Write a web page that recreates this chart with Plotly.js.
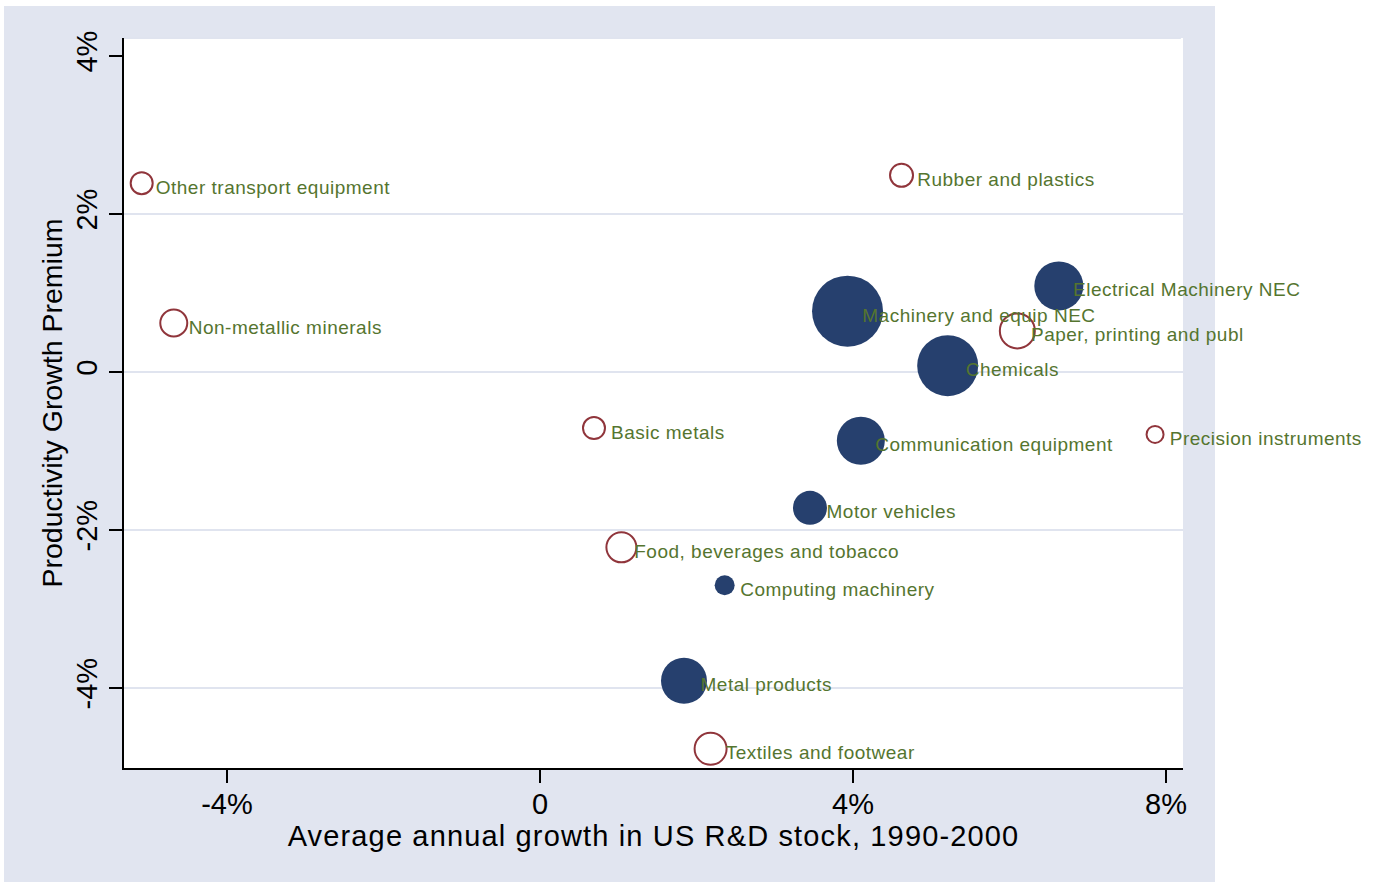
<!DOCTYPE html>
<html><head><meta charset="utf-8">
<script src="https://cdn.plot.ly/plotly-3.0.1.min.js"></script>
<style>
html,body{margin:0;padding:0;background:#fff;width:1379px;height:882px;overflow:hidden;}
#bg{position:absolute;left:4px;top:6px;width:1211px;height:876px;background:#e1e5f0;}
#chart{position:absolute;left:0;top:0;width:1362px;height:882px;}
#chart .annotation-text{letter-spacing:0.5px;}
#chart .xtitle{letter-spacing:1.15px;}
</style></head><body><div id="bg"></div><div id="chart"></div>
<script>
// Industries (x = avg annual growth in US R&D stock, %, y = productivity growth premium, %)
const industries = [
  'Other transport equipment','Non-metallic minerals','Rubber and plastics',
  'Electrical Machinery NEC','Machinery and equip NEC','Paper, printing and publ',
  'Chemicals','Basic metals','Precision instruments','Communication equipment',
  'Motor vehicles','Food, beverages and tobacco','Computing machinery',
  'Metal products','Textiles and footwear'
];
const rdGrowth = [-5.09,-4.68,4.62,6.63,3.93,6.10,5.21,0.69,7.86,4.10,3.45,1.04,2.36,1.84,2.18];
const premium  = [2.39,0.62,2.49,1.09,0.77,0.52,0.08,-0.71,-0.79,-0.87,-1.72,-2.22,-2.70,-3.91,-4.77];
const bubbleSize = [22,27,23,49,71,35,61,22,17,48,34,30,20,46,32];
const highTech = [false,false,false,true,true,false,true,false,false,true,true,false,true,true,false];

const xTickVals = [-4,0,4,8];
const xTickText = ['-4%','0','4%','8%'];
const yTickVals = [-4,-2,0,2,4];
const yTickText = ['-4%','-2%','0','2%','4%'];
const yGridVals = [-4,-2,0,2];

const FONT = '"Liberation Sans", Arial, sans-serif';
const NAVY = '#26406e', MAROON = '#90353b', GREEN = '#55752f', GRID = '#e0e4ef';

function pick(arr, flag){ return arr.filter((_, i) => highTech[i] === flag); }

const traces = [
  {
    type:'scatter', mode:'markers', hoverinfo:'skip',
    x: pick(rdGrowth,false), y: pick(premium,false),
    marker:{size: pick(bubbleSize,false), opacity:1, color:'rgba(0,0,0,0)', line:{color:MAROON, width:2}},
    cliponaxis:false
  },
  {
    type:'scatter', mode:'markers', hoverinfo:'skip',
    x: pick(rdGrowth,true), y: pick(premium,true),
    marker:{size: pick(bubbleSize,true), opacity:1, color:NAVY, line:{width:0}},
    cliponaxis:false
  }
];

const annotations = industries.map((name, i) => ({
  x: rdGrowth[i], y: premium[i], xref:'x', yref:'y',
  text: name, showarrow:false, xanchor:'left', yanchor:'middle',
  xshift: 18, yshift: -4,
  font:{family:FONT, size:19, color:GREEN}
}));

const shapes = yGridVals.map(v => ({
  type:'line', xref:'paper', yref:'y', x0:0, x1:1, y0:v, y1:v,
  line:{color:GRID, width:2}, layer:'below'
}));
shapes.push({type:'line', xref:'paper', yref:'paper', x0:0, x1:0.998, y0:1, y1:1,
  line:{color:GRID, width:2}, layer:'below'});

const layout = {
  width:1362, height:882,
  margin:{l:124, r:179, t:38, b:114},
  paper_bgcolor:'rgba(0,0,0,0)', plot_bgcolor:'#ffffff',
  showlegend:false,
  font:{family:FONT, color:'#000'},
  xaxis:{
    range:[-5.316, 8.217], tickmode:'array', tickvals:xTickVals, ticktext:xTickText,
    showgrid:false, zeroline:false, showline:true, linecolor:'#000', linewidth:2,
    ticks:'outside', ticklen:13, tickwidth:2, tickcolor:'#000', ticklabelstandoff:-4,
    tickfont:{family:FONT, size:29, color:'#000'},
    title:{text:'Average annual growth in US R&D stock, 1990-2000', font:{family:FONT, size:29, color:'#000'}, standoff:0}
  },
  yaxis:{
    range:[-5.013, 4.228], tickmode:'array', tickvals:yTickVals, ticktext:yTickText,
    showgrid:false, zeroline:false, showline:true, linecolor:'#000', linewidth:2,
    ticks:'outside', ticklen:13, tickwidth:2, tickcolor:'#000', tickangle:-90,
    tickfont:{family:FONT, size:29, color:'#000'},
    title:{text:'Productivity Growth Premium', font:{family:FONT, size:28.5, color:'#000'}, standoff:0}
  },
  annotations: annotations,
  shapes: shapes
};

Plotly.newPlot('chart', traces, layout, {displayModeBar:false, staticPlot:true});
</script></body></html>
